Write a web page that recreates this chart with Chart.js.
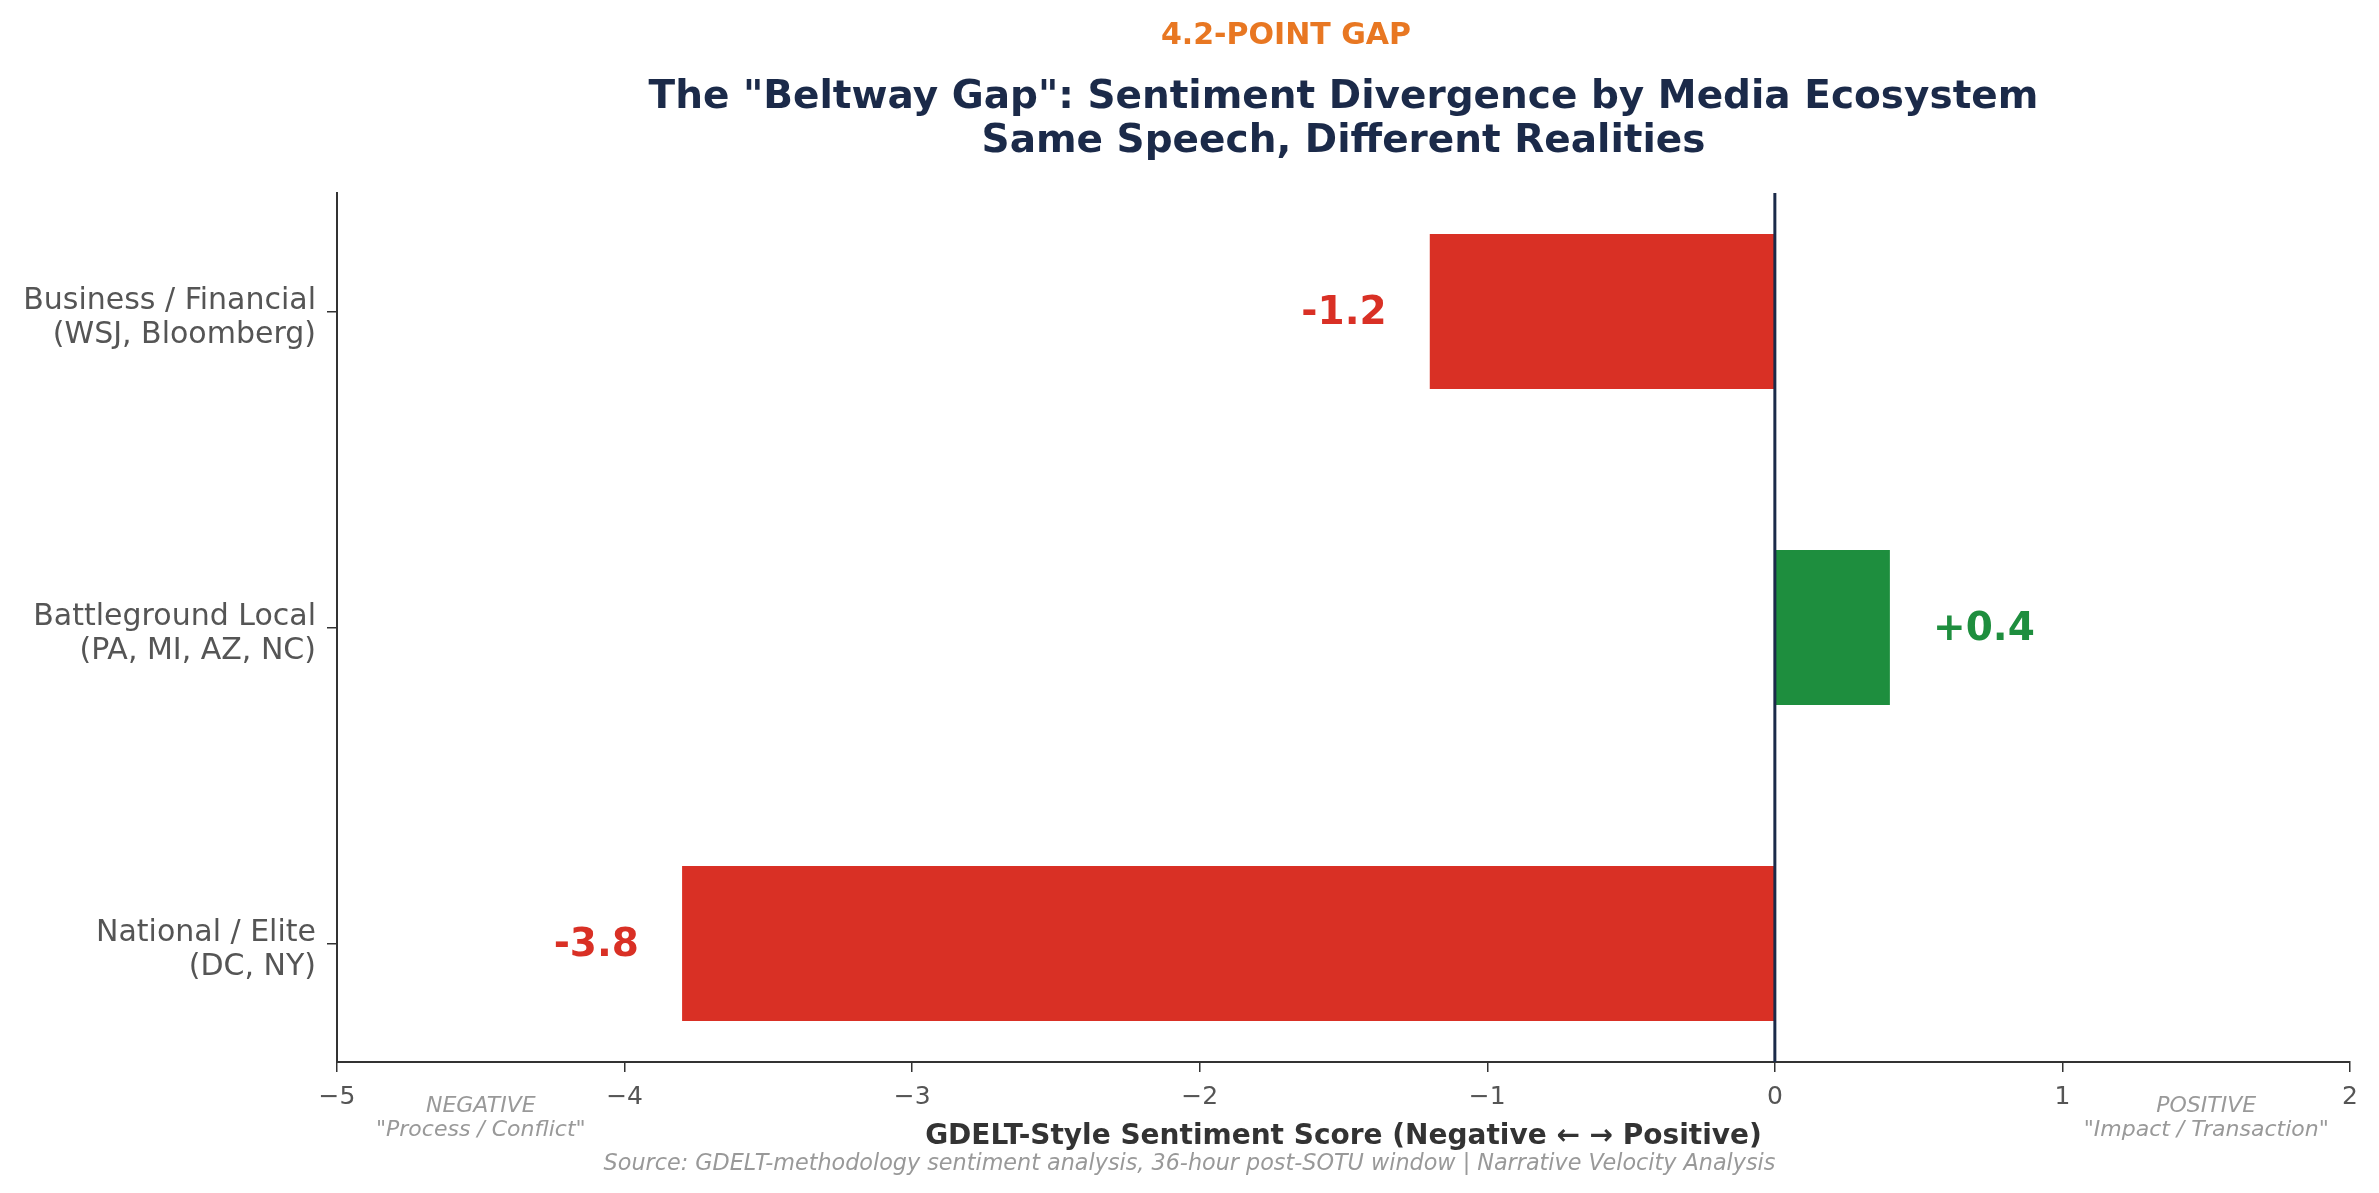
<!DOCTYPE html>
<html>
<head>
<meta charset="utf-8">
<script src="https://cdn.jsdelivr.net/npm/chart.js@4.4.1/dist/chart.umd.min.js"></script>
<style>
html,body{margin:0;padding:0;background:#fff;}
#wrap{width:2379px;height:1193px;position:relative;}
</style>
</head>
<body>
<div id="wrap"><canvas id="c" width="2379" height="1193"></canvas></div>
<script>
const categories = [
  ['Business / Financial', '(WSJ, Bloomberg)'],
  ['Battleground Local', '(PA, MI, AZ, NC)'],
  ['National / Elite', '(DC, NY)']
];
const scores = [-1.2, 0.4, -3.8];
const valueLabels = ['-1.2', '+0.4', '-3.8'];
const xTicks = [-5, -4, -3, -2, -1, 0, 1, 2];
const gapLabel = '4.2-POINT GAP';
const gapLabelAt = -1.7;
const titleLines = ['The "Beltway Gap": Sentiment Divergence by Media Ecosystem', 'Same Speech, Different Realities'];
const xTitle = 'GDELT-Style Sentiment Score (Negative \u2190 \u2192 Positive)';
const sourceText = 'Source: GDELT-methodology sentiment analysis, 36-hour post-SOTU window | Narrative Velocity Analysis';
const sideNotes = [
  {x: -4.5, lines: ['NEGATIVE', '"Process / Conflict"']},
  {x: 1.5, lines: ['POSITIVE', '"Impact / Transaction"']}
];

const RED = '#d93025', GREEN = '#1e8e3e', NAVY = '#1b2a49';
const FONT = '"DejaVu Sans", sans-serif';

const overlay = {
  id: 'overlay',
  afterDatasetsDraw(chart) {
    const ctx = chart.ctx, xs = chart.scales.x, ys = chart.scales.y, ca = chart.chartArea;
    ctx.save();
    ctx.strokeStyle = NAVY; ctx.lineWidth = 3;
    const zx = xs.getPixelForValue(0);
    ctx.beginPath(); ctx.moveTo(zx, ca.top); ctx.lineTo(zx, ca.bottom); ctx.stroke();
    ctx.font = 'bold 39px ' + FONT; ctx.textBaseline = 'middle';
    scores.forEach((v, i) => {
      const y = ys.getPixelForValue(i) + 2;
      if (v < 0) { ctx.textAlign = 'right'; ctx.fillStyle = RED; ctx.fillText(valueLabels[i], xs.getPixelForValue(v - 0.15), y); }
      else { ctx.textAlign = 'left'; ctx.fillStyle = GREEN; ctx.fillText(valueLabels[i], xs.getPixelForValue(v + 0.15), y); }
    });
    ctx.restore();
  },
  afterDraw(chart) {
    const ctx = chart.ctx, xs = chart.scales.x, ca = chart.chartArea;
    const cx = (ca.left + ca.right) / 2;
    ctx.save();
    ctx.textBaseline = 'middle'; ctx.textAlign = 'center';
    ctx.fillStyle = '#e87722'; ctx.font = 'bold 30px ' + FONT;
    ctx.fillText(gapLabel, xs.getPixelForValue(gapLabelAt), 36);
    ctx.fillStyle = NAVY; ctx.font = 'bold 39px ' + FONT;
    ctx.fillText(titleLines[0], cx, 98);
    ctx.fillText(titleLines[1], cx, 142);
    ctx.fillStyle = '#333'; ctx.font = 'bold 28px ' + FONT;
    ctx.fillText(xTitle, cx, 1137);
    ctx.fillStyle = '#999'; ctx.font = 'italic 22.3px ' + FONT;
    ctx.fillText(sourceText, chart.width / 2, 1164);
    ctx.font = 'italic 22px ' + FONT;
    sideNotes.forEach(n => {
      const px = xs.getPixelForValue(n.x);
      ctx.fillText(n.lines[0], px, 1106);
      ctx.fillText(n.lines[1], px, 1130);
    });
    ctx.restore();
  }
};

new Chart(document.getElementById('c'), {
  type: 'bar',
  data: {
    datasets: [{
      data: scores.map((v, i) => ({x: v, y: i})),
      backgroundColor: scores.map(v => v < 0 ? RED : GREEN),
      borderWidth: 0,
      barPercentage: 0.49,
      categoryPercentage: 1
    }]
  },
  options: {
    indexAxis: 'y',
    responsive: false,
    animation: false,
    devicePixelRatio: 1,
    layout: {padding: {left: 0, right: 29, top: 193, bottom: 0}},
    plugins: {legend: {display: false}, tooltip: {enabled: false}, title: {display: false}},
    scales: {
      x: {
        type: 'linear', min: -5, max: 2,
        afterBuildTicks: s => { s.ticks = xTicks.map(v => ({value: v})); },
        afterFit: s => { s.height = 131; },
        grid: {drawOnChartArea: false, drawTicks: true, tickLength: 10, color: '#333', lineWidth: 1.5},
        border: {display: true, color: '#333', width: 2},
        ticks: {
          font: {family: FONT, size: 25}, color: '#555', padding: 10,
          callback: v => (v < 0 ? '\u2212' + Math.abs(v) : String(v))
        }
      },
      y: {
        type: 'linear', min: -0.375, max: 2.375, reverse: true, offset: false,
        afterBuildTicks: s => { s.ticks = categories.map((c, i) => ({value: i})); },
        afterFit: s => { s.width = 337; },
        grid: {offset: false, drawOnChartArea: false, drawTicks: true, tickLength: 10, color: '#333', lineWidth: 1.5},
        border: {display: true, color: '#333', width: 2},
        ticks: {
          font: {family: FONT, size: 30, lineHeight: 34 / 30}, color: '#555', padding: 11, labelOffset: 7,
          callback: v => categories[v]
        }
      }
    }
  },
  plugins: [overlay]
});
</script>
</body>
</html>
